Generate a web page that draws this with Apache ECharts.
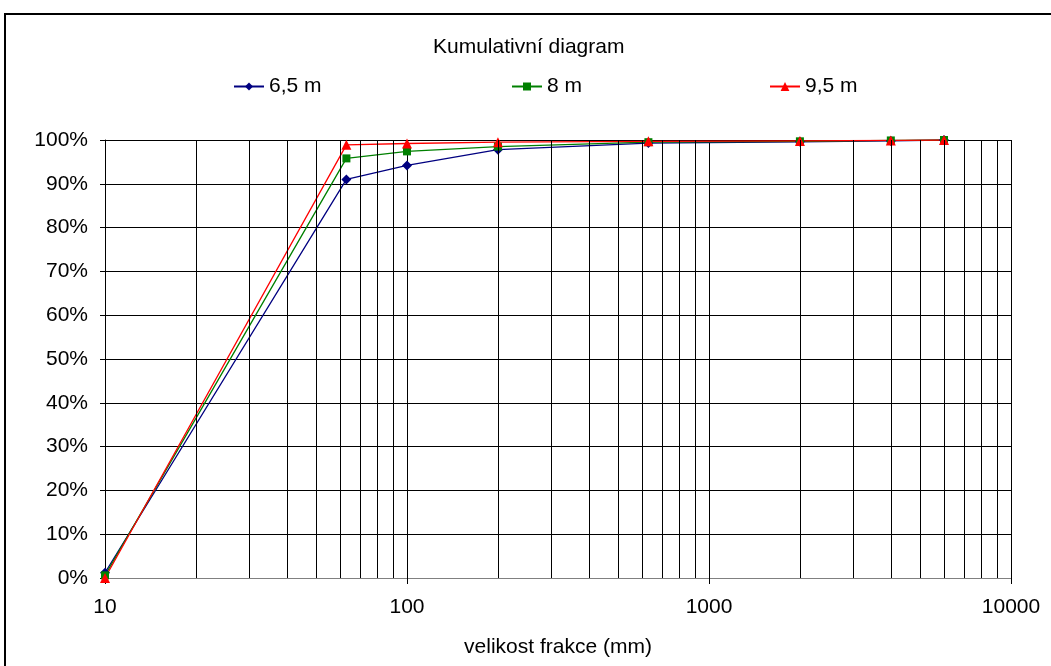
<!DOCTYPE html>
<html>
<head>
<meta charset="utf-8">
<script src="https://cdn.jsdelivr.net/npm/echarts@6/dist/echarts.min.js"></script>
<style>html,body{margin:0;padding:0;background:#fff}#c{width:1051px;height:666px}</style>
</head>
<body>
<div id="c"></div>
<script>
const sizes = [10, 63, 100, 200, 630, 2000, 4000, 6000];
const s65 = [1.2, 91.0, 94.2, 97.8, 99.3, 99.6, 99.8, 100];
const s8 = [0.6, 95.8, 97.4, 98.5, 99.5, 99.7, 99.9, 100];
const s95 = [0, 98.9, 99.2, 99.5, 99.7, 99.8, 99.9, 100];
const seriesNames = ['6,5 m', '8 m', '9,5 m'];
const minorGrid = [20,30,40,50,60,70,80,90,200,300,400,500,600,700,800,900,2000,3000,4000,5000,6000,7000,8000,9000,10000];

const FONT = 'Liberation Sans, Arial, sans-serif';
const FS = 21;
const pair = (arr) => sizes.map((x, i) => [x, arr[i]]);
const legendText = {fontFamily: FONT, fontSize: FS, color: '#000'};

const chart = echarts.init(document.getElementById('c'), null, {renderer: 'canvas'});
chart.setOption({
  backgroundColor: '#fff',
  animation: false,
  textStyle: {fontFamily: FONT},
  title: {
    text: 'Kumulativní diagram',
    left: 428, top: 32,
    textStyle: {fontFamily: FONT, fontSize: FS, fontWeight: 'normal', color: '#000'}
  },
  legend: [
    {data: [seriesNames[0]], left: 228, top: 71, itemWidth: 30, itemHeight: 10, textStyle: legendText},
    {data: [seriesNames[1]], left: 506, top: 71, itemWidth: 30, itemHeight: 10, textStyle: legendText},
    {data: [seriesNames[2]], left: 764, top: 71, itemWidth: 30, itemHeight: 11, textStyle: legendText}
  ],
  graphic: [{
    type: 'rect', shape: {x: 5, y: 14, width: 1100, height: 700},
    style: {fill: 'none', stroke: '#000', lineWidth: 2}, silent: true
  }],
  grid: {left: 105, right: 40, top: 140, bottom: 88, containLabel: false},
  xAxis: {
    type: 'log', logBase: 10, min: 10, max: 10000,
    name: 'velikost frakce (mm)', nameLocation: 'middle', nameGap: 59,
    nameTextStyle: {fontFamily: FONT, fontSize: FS, color: '#000'},
    axisLine: {show: true, lineStyle: {color: '#808080', width: 1}},
    axisTick: {show: true, length: 6, lineStyle: {color: '#000'}},
    axisLabel: {fontFamily: FONT, fontSize: FS, color: '#000', margin: 19,
      formatter: v => String(Math.round(v))},
    splitLine: {show: true, lineStyle: {color: '#000', width: 1}},
    minorTick: {show: false}, minorSplitLine: {show: false}
  },
  yAxis: {
    type: 'value', min: 0, max: 100, interval: 10,
    axisLine: {show: true, lineStyle: {color: '#000', width: 1}},
    axisTick: {show: true, length: 5, lineStyle: {color: '#000'}},
    axisLabel: {fontFamily: FONT, fontSize: FS, color: '#000', margin: 17, formatter: '{value}%'},
    splitLine: {show: true, lineStyle: {color: '#000', width: 1}}
  },
  series: [
    {
      name: '__grid', type: 'line', data: [], silent: true,
      markLine: {
        silent: true, symbol: ['none', 'none'], animation: false,
        label: {show: false},
        lineStyle: {color: '#000', width: 1, type: 'solid'},
        emphasis: {disabled: true},
        data: minorGrid.map(v => ({xAxis: v}))
      }
    },
    {
      name: seriesNames[0], type: 'line', data: pair(s65),
      symbol: 'diamond', symbolSize: 10,
      lineStyle: {color: '#000080', width: 1.3}, itemStyle: {color: '#000080'}
    },
    {
      name: seriesNames[1], type: 'line', data: pair(s8),
      symbol: 'rect', symbolSize: 8,
      lineStyle: {color: '#008000', width: 1.3}, itemStyle: {color: '#008000'}
    },
    {
      name: seriesNames[2], type: 'line', data: pair(s95),
      symbol: 'triangle', symbolSize: 10,
      lineStyle: {color: '#FF0000', width: 1.3}, itemStyle: {color: '#FF0000'}
    }
  ]
});
</script>
</body>
</html>
